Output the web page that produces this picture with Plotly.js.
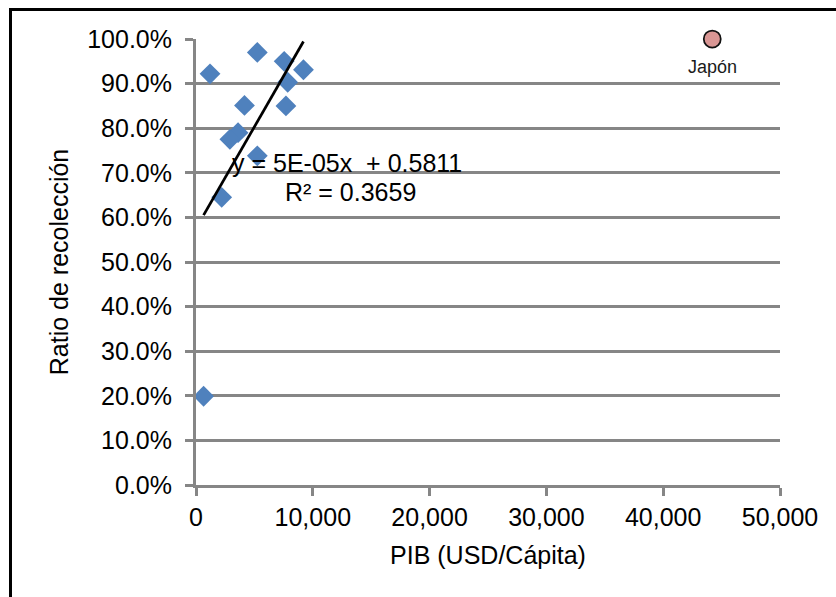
<!DOCTYPE html>
<html>
<head>
<meta charset="utf-8">
<script src="https://cdn.plot.ly/plotly-3.0.1.min.js"></script>
<style>
  html, body { margin: 0; padding: 0; background: #ffffff; overflow: hidden; }
  #frame { position: absolute; left: 9px; top: 8px; width: 900px; height: 700px;
           border: 3px solid #000000; box-sizing: border-box; }
  #chart { position: absolute; left: 0; top: 0; width: 836px; height: 597px; }
</style>
</head>
<body>
<div id="frame"></div>
<div id="chart"></div>
<script>
// GDP per capita (USD) and collection ratio for each country in the sample
const gdpPerCapita = [1200, 5250, 7550, 9200, 7850, 4150, 7700, 3600, 2900, 5250, 2200, 650];
const collectionRatio = [0.922, 0.970, 0.950, 0.931, 0.903, 0.851, 0.850, 0.790, 0.775, 0.738, 0.645, 0.199];

// Japan, shown separately
const japanGdp = [44200];
const japanRatio = [1.0];
const japanLabel = ['Japón'];

// Trend label text
const trendEquation = 'y = 5E-05x  + 0.5811';
const trendR2 = 'R² = 0.3659';

// Axis settings
const xTickStep = 10000;
const yTickStep = 0.1;

// Ordinary least squares fit over the sample (Japan excluded)
function linearFit(xs, ys) {
  const n = xs.length;
  const mx = xs.reduce((a, b) => a + b, 0) / n;
  const my = ys.reduce((a, b) => a + b, 0) / n;
  let sxy = 0, sxx = 0;
  for (let i = 0; i < n; i++) {
    sxy += (xs[i] - mx) * (ys[i] - my);
    sxx += (xs[i] - mx) * (xs[i] - mx);
  }
  const slope = sxy / sxx;
  return { slope: slope, intercept: my - slope * mx };
}

const fit = linearFit(gdpPerCapita, collectionRatio);
const xMin = Math.min(...gdpPerCapita);
const xMax = Math.max(...gdpPerCapita);
const trendX = [xMin, xMax];
const trendY = trendX.map(x => fit.intercept + fit.slope * x);

const font = { family: 'Liberation Sans, Arial, sans-serif', color: '#000000', size: 25 };
const axisGrey = '#868686';

const traces = [
  {
    type: 'scatter', mode: 'markers',
    x: gdpPerCapita, y: collectionRatio,
    marker: { symbol: 'diamond', size: 16, color: '#4f81bd', line: { width: 0 } },
    hoverinfo: 'x+y', showlegend: false
  },
  {
    type: 'scatter', mode: 'lines',
    x: trendX, y: trendY,
    line: { color: '#000000', width: 2.75 },
    hoverinfo: 'skip', showlegend: false
  },
  {
    type: 'scatter', mode: 'markers',
    x: japanGdp, y: japanRatio,
    marker: { symbol: 'circle', size: 17, color: '#d99694', line: { color: '#111111', width: 1.75 } },
    cliponaxis: false,
    hoverinfo: 'x+y', showlegend: false
  }
];

const layout = {
  width: 836, height: 597,
  margin: { l: 196, r: 56, t: 39, b: 112 },
  paper_bgcolor: 'rgba(0,0,0,0)',
  plot_bgcolor: 'rgba(0,0,0,0)',
  font: font,
  showlegend: false,
  xaxis: {
    range: [0, 50000], tick0: 0, dtick: xTickStep, tickformat: ',d',
    showgrid: false, zeroline: false,
    showline: true, linecolor: axisGrey, linewidth: 3,
    ticks: 'outside', ticklen: 8, tickwidth: 3, tickcolor: axisGrey,
    tickfont: font,
    title: { text: 'PIB (USD/Cápita)', font: font, standoff: 17 }
  },
  yaxis: {
    range: [0, 1], tick0: 0, dtick: yTickStep, tickformat: '.1%',
    showgrid: true, gridcolor: axisGrey, gridwidth: 3, zeroline: false,
    showline: true, linecolor: axisGrey, linewidth: 3,
    ticks: 'outside', ticklen: 8, tickwidth: 3, tickcolor: axisGrey,
    tickfont: font, ticklabelstandoff: 8,
    title: { text: 'Ratio de recolección', font: font, standoff: 12 }
  },
  annotations: [
    {
      x: japanGdp[0], y: japanRatio[0], xref: 'x', yref: 'y',
      text: japanLabel[0], showarrow: false, yshift: -28,
      font: { family: font.family, size: 18, color: '#1a1a1a' }
    },
    {
      x: 12930, y: 0.722, xref: 'x', yref: 'y',
      text: trendEquation, showarrow: false,
      font: font, xanchor: 'center', yanchor: 'middle'
    },
    {
      x: 13190, y: 0.657, xref: 'x', yref: 'y',
      text: trendR2, showarrow: false,
      font: font, xanchor: 'center', yanchor: 'middle'
    }
  ]
};

Plotly.newPlot('chart', traces, layout, { displayModeBar: false, staticPlot: true });
</script>
</body>
</html>
